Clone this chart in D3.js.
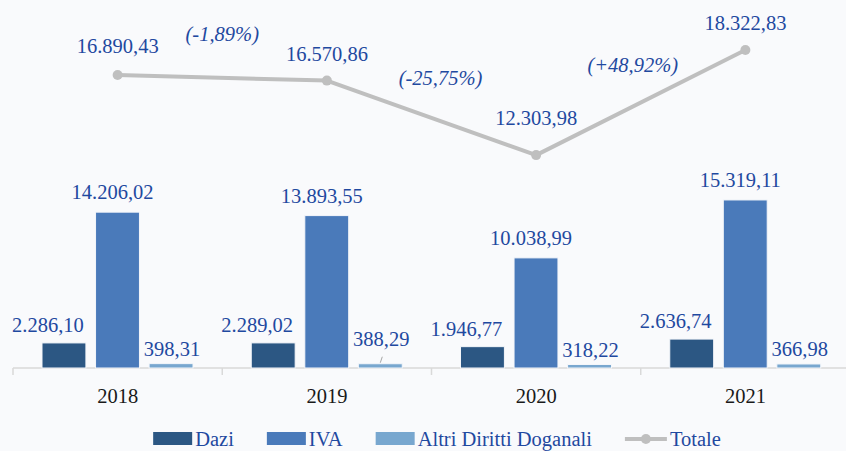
<!DOCTYPE html>
<html>
<head>
  <meta charset="UTF-8">
  <title>Dazi, IVA e Altri Diritti Doganali</title>
  <style>
    body { margin: 0; background: #f9fafc; }
  </style>
</head>
<body>
  <svg id="svg" width="846" height="451" style="display:block"></svg>
  <script src="https://cdn.jsdelivr.net/npm/d3@7"></script>
  <script>
    const years = ['2018', '2019', '2020', '2021']
    const series = ['Dazi', 'IVA', 'Altri Diritti Doganali']
    const dazi = [2286.10, 2289.02, 1946.77, 2636.74]
    const iva = [14206.02, 13893.55, 10038.99, 15319.11]
    const altri = [398.31, 388.29, 318.22, 366.98]
    const totale = [16890.43, 16570.86, 12303.98, 18322.83]
    const variazioni = ['(-1,89%)', '(-25,75%)', '(+48,92%)']

    const width = 846
    const axisY = 368
    const font = "'Liberation Serif', 'Times New Roman', serif"
    const fontSize = 20.5
    const labelColor = '#1f49a0'
    const colors = { 'Dazi': '#2c5783', 'IVA': '#4a7aba', 'Altri Diritti Doganali': '#78a7cf' }
    const lineColor = '#bfbfbf'

    // numeri in formato italiano: 16.890,43
    const it = d3.formatLocale({ decimal: ',', thousands: '.', grouping: [3], currency: ['€', ''] })
    const fmt = it.format(',.2f')

    const values = { 'Dazi': dazi, 'IVA': iva, 'Altri Diritti Doganali': altri }
    const rows = []
    years.forEach((y, i) => series.forEach(s => rows.push({ year: y, serie: s, value: values[s][i] })))

    const svg = d3.select('#svg')
      .attr('font-family', font)
      .attr('font-size', fontSize)

    // scales
    const x0 = d3.scaleBand().domain(years).range([13, 850]).padding(0)
    const x1 = d3.scaleBand().domain(series).range([29, 180]).paddingInner(0.18)
    const yBar = d3.scaleLinear().domain([0, 20000]).range([axisY, axisY - 219.4])
    const yLine = d3.scaleLinear().domain([0, 18322.83]).range([370, 50])

    // axis line + ticks at category boundaries
    svg.append('line')
      .attr('x1', 13).attr('x2', width)
      .attr('y1', axisY).attr('y2', axisY)
      .attr('stroke', '#d9d9d9').attr('stroke-width', 1.5)

    svg.selectAll('.tick')
      .data(years)
      .join('line')
      .attr('class', 'tick')
      .attr('x1', d => x0(d)).attr('x2', d => x0(d))
      .attr('y1', axisY).attr('y2', axisY + 7)
      .attr('stroke', '#d9d9d9').attr('stroke-width', 1.5)

    svg.selectAll('.year')
      .data(years)
      .join('text')
      .attr('class', 'year')
      .attr('x', d => x0(d) + x0.bandwidth() / 2)
      .attr('y', 403)
      .attr('text-anchor', 'middle')
      .attr('font-family', font)
      .attr('fill', '#1a1a1a')
      .text(d => d)

    // bars
    svg.selectAll('.bar')
      .data(rows)
      .join('rect')
      .attr('class', 'bar')
      .attr('x', d => x0(d.year) + x1(d.serie))
      .attr('width', x1.bandwidth())
      .attr('y', d => yBar(d.value))
      .attr('height', d => axisY - yBar(d.value))
      .attr('fill', d => colors[d.serie])
      .attr('stroke', '#f4f6fa')
      .attr('stroke-width', 1)

    // bar labels (Excel-style shifts)
    const dxBy = { 'Dazi': -16, 'IVA': -5, 'Altri Diritti Doganali': 1 }
    const dyBy = { 'Dazi': -11, 'IVA': -13, 'Altri Diritti Doganali': -8 }
    const raised = d => d.serie === 'Altri Diritti Doganali' && d.year === '2019'

    svg.selectAll('.barlabel')
      .data(rows)
      .join('text')
      .attr('class', 'barlabel')
      .attr('x', d => x0(d.year) + x1(d.serie) + x1.bandwidth() / 2 + dxBy[d.serie])
      .attr('y', d => yBar(d.value) + dyBy[d.serie] - (raised(d) ? 10 : 0))
      .attr('text-anchor', 'middle')
      .attr('font-family', font)
      .attr('fill', labelColor)
      .text(d => fmt(d.value))

    // leader line for the moved label
    rows.filter(raised).forEach(d => {
      const cx = x0(d.year) + x1(d.serie) + x1.bandwidth() / 2
      svg.append('line')
        .attr('x1', cx + 2).attr('y1', yBar(d.value) - 7)
        .attr('x2', cx).attr('y2', yBar(d.value) - 1)
        .attr('stroke', '#a6a6a6').attr('stroke-width', 1)
    })

    // totale line
    const pts = years.map((y, i) => ({ year: y, value: totale[i], x: x0(y) + x0.bandwidth() / 2, y: yLine(totale[i]) }))

    svg.append('path')
      .datum(pts)
      .attr('fill', 'none')
      .attr('stroke', lineColor)
      .attr('stroke-width', 4)
      .attr('stroke-linejoin', 'round')
      .attr('d', d3.line().x(d => d.x).y(d => d.y))

    svg.selectAll('.dot')
      .data(pts)
      .join('circle')
      .attr('class', 'dot')
      .attr('cx', d => d.x).attr('cy', d => d.y)
      .attr('r', 5)
      .attr('fill', lineColor)

    const lineDy = [-22, -20, -30, -20]
    svg.selectAll('.totlabel')
      .data(pts)
      .join('text')
      .attr('class', 'totlabel')
      .attr('x', d => d.x)
      .attr('y', (d, i) => d.y + lineDy[i])
      .attr('text-anchor', 'middle')
      .attr('font-family', font)
      .attr('fill', labelColor)
      .text(d => fmt(d.value))

    // variazioni percentuali
    const pctDx = [0, 9, -8]
    const pctDy = [-37, -33, -31]
    svg.selectAll('.pct')
      .data(variazioni)
      .join('text')
      .attr('class', 'pct')
      .attr('x', (d, i) => (pts[i].x + pts[i + 1].x) / 2 + pctDx[i])
      .attr('y', (d, i) => (pts[i].y + pts[i + 1].y) / 2 + pctDy[i])
      .attr('text-anchor', 'middle')
      .attr('font-family', font)
      .attr('font-style', 'italic')
      .attr('fill', labelColor)
      .text(d => d)

    // legend
    const legendItems = series.concat(['Totale'])
    const legendGap = 33
    const legend = svg.append('g')
    let lx = 0
    legendItems.forEach(name => {
      const g = legend.append('g').attr('transform', `translate(${lx},0)`)
      if (name === 'Totale') {
        g.append('line').attr('x1', 0).attr('x2', 42).attr('y1', 439).attr('y2', 439)
          .attr('stroke', lineColor).attr('stroke-width', 4)
        g.append('circle').attr('cx', 21).attr('cy', 439).attr('r', 5).attr('fill', lineColor)
      } else {
        g.append('rect').attr('x', 0).attr('y', 432).attr('width', 39).attr('height', 13)
          .attr('fill', colors[name])
      }
      const t = g.append('text')
        .attr('x', name === 'Totale' ? 45 : 42)
        .attr('y', 446)
        .attr('font-family', font)
        .attr('fill', labelColor)
        .text(name)
      lx += (name === 'Totale' ? 45 : 42) + t.node().getComputedTextLength() + legendGap
    })
    const legendWidth = lx - legendGap
    legend.attr('transform', `translate(${437 - legendWidth / 2},0)`)
  </script>
</body>
</html>
